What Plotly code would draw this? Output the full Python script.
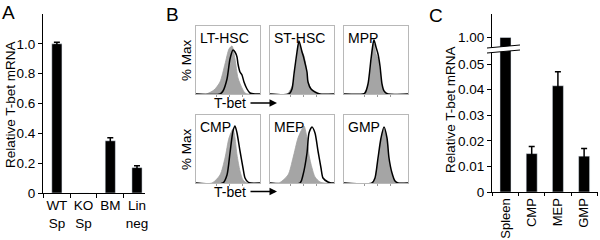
import plotly.graph_objects as go

# ---------------- data ----------------
# Panel A
a_cats = ["WT<br>Sp", "KO<br>Sp", "BM", "Lin<br>neg"]
a_vals = [1.0, 0.0, 0.35, 0.17]
a_errs = [0.01, None, 0.02, 0.012]
a_ticks = [0, 0.2, 0.4, 0.6, 0.8, 1.0]
a_ticktext = ["0", "0.2", "0.4", "0.6", "0.8", "1.0"]

# Panel C
c_cats = ["Spleen", "CMP", "MEP", "GMP"]
c_vals = [1.00, 0.015, 0.0415, 0.014]
c_errs = [None, 0.0028, 0.0055, 0.003]
c_low_ticks = [0, 0.01, 0.02, 0.03, 0.04, 0.05]
c_low_ticktext = ["0", "0.01", "0.02", "0.03", "0.04", "0.05"]
c_high_ticks = [1.0]
c_high_ticktext = ["1.00"]

# Panel B histograms (T-bet intensity channel, relative count)
hist_names = ["LT-HSC", "ST-HSC", "MPP", "CMP", "MEP", "GMP"]
lt_grey_x = [0, 10, 18, 24, 29, 33, 36, 39, 42, 46, 49, 52, 64]
lt_grey_y = [0, 0, 4, 12, 30, 45, 48, 35, 16, 6, 1, 0, 0]
lt_black_x = [0, 24, 27, 31, 34, 37, 39, 41, 42, 44, 46, 48, 51, 54, 59, 64]
lt_black_y = [0, 0, 3, 15, 35, 44, 42, 37, 30, 22, 19, 12, 5, 1, 0, 0]

st_grey_x = [0, 17, 23, 26, 28, 29, 32, 34, 36, 38, 42, 45, 48, 64]
st_grey_y = [0, 0, 10, 30, 48, 50, 43, 38, 28, 12, 4, 1, 0, 0]
st_black_x = [0, 19, 22, 24, 27, 29, 32, 33, 35, 37, 38, 41, 45, 50, 64]
st_black_y = [0, 0, 5, 20, 42, 53, 42, 39, 31, 22, 12, 5, 2, 0, 0]

mpp_grey_x = [0, 19, 24, 27, 29, 30, 32, 34, 36, 38, 40, 64]
mpp_grey_y = [0, 0, 8, 32, 47, 50, 40, 35, 22, 7, 1, 0]
mpp_black_x = [0, 19, 21, 24, 27, 29, 30, 32, 34, 36, 38, 40, 44, 64]
mpp_black_y = [0, 0, 1, 10, 35, 50, 54, 47, 40, 28, 10, 3, 0, 0]

cmp_grey_x = [0, 16, 24, 29, 33, 37, 39, 41, 44, 47, 51, 64]
cmp_grey_y = [0, 0, 8, 25, 45, 54, 45, 28, 12, 3, 0, 0]
cmp_black_x = [0, 27, 31, 34, 37, 39, 41, 44, 47, 49, 52, 55, 64]
cmp_black_y = [0, 0, 8, 30, 52, 57, 50, 32, 15, 5, 1, 0, 0]

mep_grey_x = [0, 9, 18, 23, 28, 32, 34, 37, 39, 42, 45, 50, 54, 64]
mep_grey_y = [0, 0, 8, 25, 45, 54, 57, 45, 28, 15, 6, 1, 0, 0]
mep_black_x = [0, 30, 33, 37, 39, 42, 45, 48, 51, 53, 58, 61, 64]
mep_black_y = [0, 0, 8, 30, 50, 56, 50, 32, 15, 5, 1, 0, 0]

gmp_grey_x = [0, 29, 31, 34, 37, 40, 43, 45, 48, 51, 64]
gmp_grey_y = [0, 0, 4, 23, 43, 54, 43, 23, 8, 1, 0]
gmp_black_x = [0, 28, 31, 34, 37, 40, 43, 45, 48, 51, 54, 64]
gmp_black_y = [0, 0, 5, 25, 45, 56, 45, 25, 10, 2, 0, 0]

hists = [
    (lt_grey_x, lt_grey_y, lt_black_x, lt_black_y),
    (st_grey_x, st_grey_y, st_black_x, st_black_y),
    (mpp_grey_x, mpp_grey_y, mpp_black_x, mpp_black_y),
    (cmp_grey_x, cmp_grey_y, cmp_black_x, cmp_black_y),
    (mep_grey_x, mep_grey_y, mep_black_x, mep_black_y),
    (gmp_grey_x, gmp_grey_y, gmp_black_x, gmp_black_y),
]

# ---------------- layout helpers ----------------
W, H = 600, 240
FONT = "Arial, Liberation Sans, sans-serif"


def px(x):
    return x / W


def py(y):
    return 1 - y / H


def err_points(vals, errs):
    return [v if e is not None else None for v, e in zip(vals, errs)]


fig = go.Figure()
layout = dict(
    width=W, height=H, margin=dict(l=0, r=0, t=0, b=0, autoexpand=False),
    paper_bgcolor="white", plot_bgcolor="white", showlegend=False,
    font=dict(family=FONT, size=13, color="black"),
)

err_style = dict(type="data", color="black", thickness=1.5, width=3)

# ---- Panel A ----
fig.add_trace(go.Bar(
    x=a_cats, y=a_vals, xaxis="x", yaxis="y", marker_color="black", width=0.38,
))
fig.add_trace(go.Scatter(
    x=a_cats, y=err_points(a_vals, a_errs), xaxis="x", yaxis="y", mode="markers",
    marker=dict(size=1, opacity=0), error_y=dict(array=a_errs, **err_style),
))
layout["xaxis"] = dict(
    domain=[px(43), px(145)], anchor="y", type="category", categoryarray=a_cats,
    range=[-0.52, 3.3], showline=True, linecolor="black", linewidth=1,
    ticks="outside", ticklen=4, tickson="boundaries", tickcolor="black",
    tickangle=0, showgrid=False, tickfont=dict(size=13.5), automargin=False,
)
layout["yaxis"] = dict(
    domain=[py(193), py(14)], anchor="x", range=[0, 1.2],
    tickvals=a_ticks, ticktext=a_ticktext, showline=True, linecolor="black",
    linewidth=1, ticks="outside", ticklen=4, tickcolor="black",
    showgrid=False, zeroline=False, tickfont=dict(size=13.5), automargin=False,
)

# ---- Panel B ----
cols = [(196, 260), (270, 334), (344, 408)]
rows = [(26, 94), (115, 183)]
annotations = []
for i, (gx, gy, bx, by) in enumerate(hists):
    n = i + 2
    xa, ya = f"x{n}", f"y{n}"
    c0, c1 = cols[i % 3]
    r0, r1 = rows[i // 3]
    fig.add_trace(go.Scatter(
        x=gx, y=gy, xaxis=xa, yaxis=ya, mode="lines",
        line=dict(color="rgb(160,160,160)", width=0.8, shape="spline", smoothing=0.7),
        fill="tozeroy", fillcolor="rgb(165,165,165)",
    ))
    fig.add_trace(go.Scatter(
        x=bx, y=by, xaxis=xa, yaxis=ya, mode="lines",
        line=dict(color="black", width=1.5, shape="spline", smoothing=0.7),
    ))
    layout[f"xaxis{n}"] = dict(
        domain=[px(c0), px(c1)], anchor=ya, range=[0, 64],
        showline=True, mirror=True, linecolor="#b8b8b8", linewidth=1,
        showticklabels=False, ticks="outside", ticklen=2, tickcolor="#999999",
        tickvals=[20, 33, 46], showgrid=False, zeroline=False, automargin=False,
    )
    layout[f"yaxis{n}"] = dict(
        domain=[py(r1), py(r0)], anchor=xa, range=[0, 68],
        showline=True, mirror=True, linecolor="#b8b8b8", linewidth=1,
        showticklabels=False, ticks="", showgrid=False, zeroline=False,
        automargin=False,
    )
    annotations.append(dict(
        text=hist_names[i], x=px(c0 + 2), y=py(r0 + 12), xref="paper", yref="paper",
        xanchor="left", yanchor="middle", showarrow=False, font=dict(size=14),
    ))

for yc in (60, 149):
    annotations.append(dict(
        text="% Max", x=px(186), y=py(yc), xref="paper", yref="paper",
        textangle=-90, showarrow=False, xanchor="center", yanchor="middle",
        font=dict(size=13.5),
    ))
for yc in (103, 191.5):
    annotations.append(dict(
        text="T-bet", x=px(212), y=py(yc), xref="paper", yref="paper",
        xanchor="left", yanchor="middle", showarrow=False, font=dict(size=14),
    ))
    annotations.append(dict(
        text="", x=px(277), y=py(yc), xref="paper", yref="paper",
        ax=-28, ay=0, showarrow=True, arrowhead=2, arrowsize=1,
        arrowwidth=1.5, arrowcolor="black",
    ))

# ---- Panel C (broken axis) ----
c_bar = dict(marker_color="black", width=0.42)
fig.add_trace(go.Bar(
    x=c_cats, y=c_vals, xaxis="x8", yaxis="y8", **c_bar,
))
fig.add_trace(go.Bar(
    x=c_cats, y=c_vals, xaxis="x9", yaxis="y9", **c_bar,
))
fig.add_trace(go.Scatter(
    x=c_cats, y=err_points(c_vals, c_errs), xaxis="x9", yaxis="y9", mode="markers",
    marker=dict(size=1, opacity=0), error_y=dict(array=c_errs, **err_style),
))
layout["xaxis8"] = dict(
    domain=[px(492), px(598)], anchor="y8", type="category", categoryarray=c_cats,
    range=[-0.515, 3.53], visible=False, automargin=False,
)
layout["yaxis8"] = dict(
    domain=[py(48), py(14)], anchor="x8", range=[0.9895, 1.0235],
    tickvals=c_high_ticks, ticktext=c_high_ticktext, showline=True,
    linecolor="black", linewidth=1, ticks="outside", ticklen=4, tickcolor="black",
    showgrid=False, zeroline=False, tickfont=dict(size=13.5), automargin=False,
)
layout["xaxis9"] = dict(
    domain=[px(492), px(598)], anchor="y9", type="category", categoryarray=c_cats,
    range=[-0.515, 3.53], showline=True, linecolor="black", linewidth=1,
    ticks="outside", ticklen=3, tickson="boundaries", tickcolor="black",
    tickangle=-90, showgrid=False, tickfont=dict(size=13), automargin=False,
)
layout["yaxis9"] = dict(
    domain=[py(192), py(49)], anchor="x9", range=[0, 0.05586],
    tickvals=c_low_ticks, ticktext=c_low_ticktext, showline=True,
    linecolor="black", linewidth=1, ticks="outside", ticklen=4, tickcolor="black",
    showgrid=False, zeroline=False, tickfont=dict(size=13.5), automargin=False,
)

shapes = [
    dict(type="path", xref="paper", yref="paper", layer="above",
         path=f"M {px(487)} {py(48)} L {px(520)} {py(45)} L {px(520)} {py(50)} L {px(487)} {py(53)} Z",
         fillcolor="white", line=dict(width=0)),
    dict(type="line", xref="paper", yref="paper", layer="above",
         x0=px(487), y0=py(48), x1=px(520), y1=py(45), line=dict(color="black", width=1)),
    dict(type="line", xref="paper", yref="paper", layer="above",
         x0=px(487), y0=py(53), x1=px(520), y1=py(50), line=dict(color="black", width=1)),
]

# axis titles
annotations.append(dict(
    text="Relative T-bet mRNA", x=px(10), y=py(105), xref="paper", yref="paper",
    textangle=-90, showarrow=False, xanchor="center", yanchor="middle", font=dict(size=13.5),
))
annotations.append(dict(
    text="Relative T-bet mRNA", x=px(451), y=py(110), xref="paper", yref="paper",
    textangle=-90, showarrow=False, xanchor="center", yanchor="middle", font=dict(size=13.5),
))

# panel letters
for letter, lx, ly in (("A", 0, 0), ("B", 164, 2), ("C", 427, 3)):
    annotations.append(dict(
        text=letter, x=px(lx), y=py(ly), xref="paper", yref="paper",
        xanchor="left", yanchor="top", showarrow=False, font=dict(size=19),
    ))

layout["annotations"] = annotations
layout["shapes"] = shapes
fig.update_layout(**layout)
fig.write_html(
    "out.html",
    config={"displayModeBar": False},
    post_script="document.body.style.margin='0';document.body.style.padding='0';",
)
